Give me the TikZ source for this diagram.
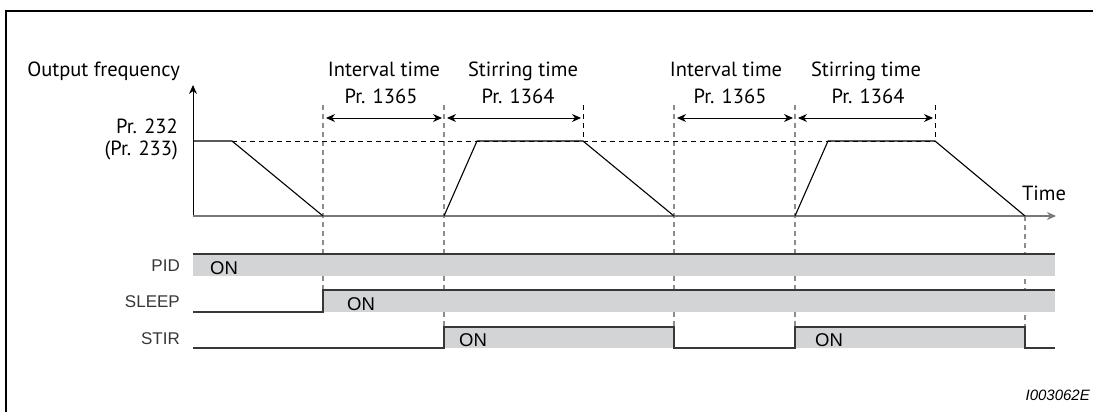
\documentclass[tikz,border=0pt]{standalone}
\usepackage{fontspec}
\setmainfont{PT Sans}
\newfontfamily\sigfont{Liberation Sans}
\usetikzlibrary{arrows.meta}
\definecolor{TcGray}{RGB}{120,120,120}
\definecolor{TcDash}{RGB}{140,140,140}
\definecolor{TcBand}{RGB}{211,212,214}
\definecolor{TcLine}{RGB}{55,55,55}
\tikzset{
  tc/frame/.style={draw=black, line width=2.4pt},
  tc/axis/.style={-{Stealth[length=9pt,width=8pt]}, draw=black, line width=1pt},
  tc/timeaxis/.style={-{Stealth[length=9pt,width=8pt]}, draw=TcGray, line width=2pt},
  tc/curve/.style={draw=black, line width=1.1pt},
  tc/level/.style={draw=black, line width=0.9pt, dash pattern=on 5pt off 4pt},
  tc/mark/.style={draw=TcDash, line width=1.3pt, dash pattern=on 5pt off 4pt},
  tc/shortmark/.style={draw=black, line width=0.9pt, dash pattern=on 5pt off 4pt},
  tc/span/.style={{Stealth[length=9pt,width=8pt]}-{Stealth[length=9pt,width=8pt]}, draw=black, line width=1pt, shorten <=3pt, shorten >=2pt},
  tc/text/.style={font=\fontsize{20.5}{22}\selectfont, anchor=base, inner sep=0pt},
  tc/sig/.style={font=\sigfont\fontsize{17}{18}\selectfont, anchor=base east, inner sep=0pt, text=TcLine},
  tc/on/.style={font=\sigfont\fontsize{18.5}{20}\selectfont, anchor=base west, inner sep=0pt},
  tc/band/.style={fill=TcBand, draw=none},
  tc/wave/.style={draw=TcLine, line width=1.3pt}
}

\begin{document}
\begin{tikzpicture}[x=1pt,y=-1pt]
  \useasboundingbox (0,0) rectangle (1093,412);
  % frame
  \draw[tc/frame] (1093,11) -- (6,11) -- (6,412);

  % labels of the upper chart
  \node[tc/text,anchor=base east] (ofreq) at (180,77) {Output frequency};
  \node[tc/text,anchor=base east] (pr232) at (178,133) {Pr. 232};
  \node[tc/text,anchor=base east] (pr233) at (178,155) {(Pr. 233)};
  \node[tc/text] (iv1) at (384,77) {Interval time};
  \node[tc/text] (iv1pr) at (381,103) {Pr. 1365};
  \node[tc/text] (st1) at (523,77) {Stirring time};
  \node[tc/text] (st1pr) at (518,103) {Pr. 1364};
  \node[tc/text] (iv2) at (726,77) {Interval time};
  \node[tc/text] (iv2pr) at (730,103) {Pr. 1365};
  \node[tc/text] (st2) at (866,77) {Stirring time};
  \node[tc/text] (st2pr) at (868,103) {Pr. 1364};
  \node[tc/text] (time) at (1044,200) {Time};

  % time marks
  \foreach \x/\y in {323/290, 444/327, 674/327, 795/327}
    \draw[tc/mark] (\x,105) -- (\x,\y);
  \draw[tc/mark] (1025,216) -- (1025,327);
  \foreach \x in {583, 935}
    \draw[tc/shortmark] (\x,105) -- (\x,141);
  \draw[tc/level] (232,141) -- (935,141);

  % spans
  \foreach \a/\b in {323/444, 444/583, 674/795, 795/935}
    \draw[tc/span] (\a,118) -- (\b,118);

  % axes
  \coordinate (origin) at (193,216);
  \draw[tc/axis] (origin) -- (193,85);
  \draw[tc/timeaxis] (origin) -- (1056,216);

  % output frequency
  \draw[tc/curve] (193,141) -- (232,141) -- (323,216)
    (444,216) -- (477,141) -- (583,141) -- (674,216)
    (795,216) -- (828,141) -- (935,141) -- (1025,216);

  % signal bands
  \fill[tc/band] (193,254) rectangle (1055,276);
  \fill[tc/band] (323,290) rectangle (1055,312);
  \fill[tc/band] (444,327) rectangle (674,348);
  \fill[tc/band] (795,327) rectangle (1025,348);
  \draw[tc/wave] (193,254) -- (1055,254);
  \draw[tc/wave] (193,312) -- (323,312) -- (323,290) -- (1055,290);
  \draw[tc/wave] (193,348) -- (444,348) -- (444,327) -- (674,327) -- (674,348)
    -- (795,348) -- (795,327) -- (1025,327) -- (1025,348) -- (1055,348);

  \node[tc/sig] (pid) at (180,271) {PID};
  \node[tc/sig] (sleep) at (180,307) {SLEEP};
  \node[tc/sig] (stir) at (180,344) {STIR};
  \node[tc/on] (pidon) at (210,274) {ON};
  \node[tc/on] (sleepon) at (347,310) {ON};
  \node[tc/on] (stiron1) at (459,346) {ON};
  \node[tc/on] (stiron2) at (815,346) {ON};

  \node[font=\sigfont\itshape\fontsize{15}{17}\selectfont, anchor=base east, inner sep=0pt] (code) at (1090,400) {I003062E};
\end{tikzpicture}
\end{document}
